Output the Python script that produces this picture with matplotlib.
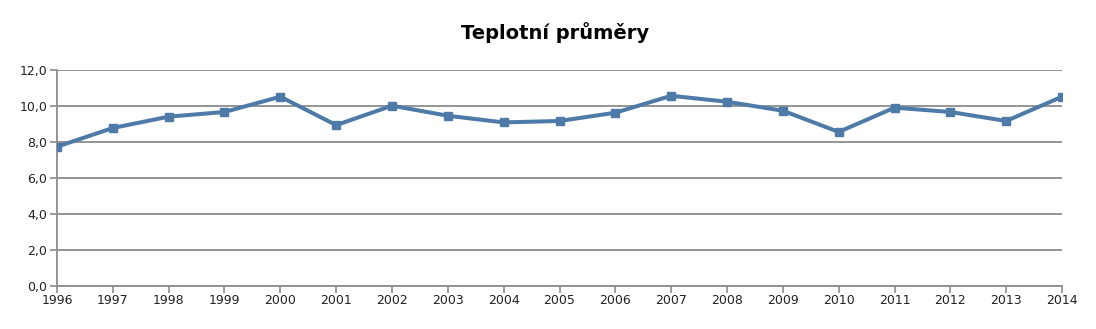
import matplotlib
matplotlib.use("Agg")
import matplotlib.pyplot as plt
from matplotlib.ticker import FuncFormatter

# data
years = list(range(1996, 2015))
teploty = [7.74, 8.78, 9.41, 9.67, 10.52, 8.94, 10.02, 9.46, 9.09, 9.17,
           9.63, 10.57, 10.24, 9.74, 8.56, 9.91, 9.67, 9.17, 10.52]
y_ticks = [0, 2, 4, 6, 8, 10, 12]

fig = plt.figure(figsize=(10.96, 3.29), dpi=100)
ax = fig.add_axes([0.052, 0.131, 0.917, 0.656])

ax.plot(years, teploty, color='#4e7aa8', lw=2.9, marker='s', ms=5.5,
        solid_joinstyle='round', zorder=3)

ax.set_xlim(years[0], years[-1])
ax.set_ylim(0, 12)
ax.set_xticks(years)
ax.set_yticks(y_ticks)
ax.yaxis.set_major_formatter(FuncFormatter(lambda v, p: f"{v:.1f}".replace('.', ',')))
ax.grid(axis='y', color='#8c8c8c', lw=1.3)
ax.set_axisbelow(True)

for s in ['top', 'right']:
    ax.spines[s].set_visible(False)
for s in ['left', 'bottom']:
    ax.spines[s].set_color('#8c8c8c')
    ax.spines[s].set_linewidth(1.3)
ax.tick_params(colors='#8c8c8c', labelcolor='#222222', labelsize=9, length=5, width=1.2)
ax.tick_params(axis='y', pad=2)
ax.tick_params(axis='x', pad=1)

fig.text(0.506, 0.9, "Teplotní průměry", ha='center', va='center',
         fontsize=14, fontweight='bold', family='DejaVu Sans')

fig.savefig("out.png", dpi=100)
